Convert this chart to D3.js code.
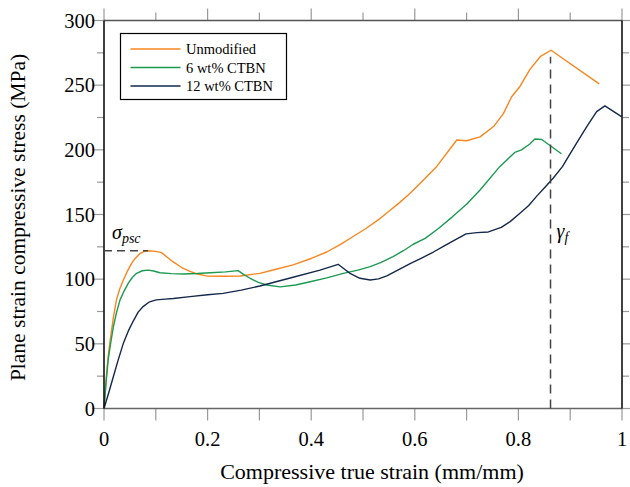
<!DOCTYPE html>
<html>
<head>
<meta charset="utf-8">
<script src="https://cdn.jsdelivr.net/npm/d3@7.9.0/dist/d3.min.js"></script>
<style>
  body { margin: 0; background: #fff; }
  text { font-family: "Liberation Serif", "DejaVu Serif", serif; fill: #000; }
</style>
</head>
<body>
<svg id="chart" width="630" height="487"></svg>
<script>
// strain / stress pairs
const unmodified = [
  [0, 0], [0.004, 22], [0.008, 40], [0.012, 53], [0.018, 70], [0.024, 84],
  [0.03, 92], [0.037, 99], [0.045, 106], [0.053, 112], [0.06, 116], [0.07, 120],
  [0.078, 121.5], [0.085, 122], [0.1, 121.5], [0.111, 120.5], [0.122, 117],
  [0.133, 113.5], [0.15, 109], [0.166, 106], [0.18, 104], [0.198, 102.5],
  [0.23, 102.2], [0.263, 102.5], [0.301, 104.5], [0.33, 107.5], [0.365, 111],
  [0.4, 116], [0.43, 121], [0.455, 126.5], [0.481, 133], [0.505, 139],
  [0.53, 146], [0.55, 152.5], [0.57, 159], [0.59, 166], [0.61, 174],
  [0.642, 187], [0.681, 207.6], [0.70, 207], [0.726, 210], [0.752, 218],
  [0.771, 228], [0.787, 241], [0.803, 249], [0.822, 262], [0.842, 272],
  [0.863, 277], [0.956, 251]
];
const ctbn6 = [
  [0, 0], [0.004, 20], [0.008, 37.5], [0.013, 51], [0.018, 63], [0.024, 74],
  [0.031, 84], [0.039, 91], [0.047, 97], [0.055, 101.5], [0.063, 104.5],
  [0.074, 106.5], [0.085, 107], [0.096, 106.3], [0.108, 105], [0.13, 104.3],
  [0.153, 104], [0.18, 104.4], [0.205, 105], [0.235, 105.6], [0.259, 106.6],
  [0.27, 103.5], [0.282, 100.7], [0.298, 97.5], [0.314, 95.5], [0.34, 94],
  [0.37, 95.5], [0.398, 98], [0.43, 101], [0.462, 104.5], [0.49, 107],
  [0.514, 109.7], [0.535, 113], [0.558, 117.4], [0.578, 122], [0.597, 127],
  [0.62, 131.5], [0.645, 139], [0.672, 148], [0.7, 158], [0.726, 169],
  [0.764, 187], [0.793, 198], [0.806, 200], [0.822, 204.5], [0.832, 208.4],
  [0.845, 208], [0.883, 197]
];
const ctbn12 = [
  [0, 0], [0.009, 12], [0.018, 24.6], [0.027, 37], [0.037, 50], [0.047, 60],
  [0.057, 68], [0.066, 74.5], [0.076, 79], [0.088, 82.5], [0.101, 84],
  [0.118, 84.6], [0.134, 85], [0.166, 86.5], [0.2, 88], [0.23, 89],
  [0.265, 91.5], [0.301, 94.7], [0.365, 101.5], [0.417, 107], [0.452, 111.5],
  [0.465, 107.5], [0.475, 104.5], [0.494, 100.7], [0.514, 99.4], [0.53, 100.2],
  [0.546, 102.5], [0.591, 112], [0.614, 116.5], [0.636, 121], [0.656, 125.5],
  [0.676, 130], [0.699, 135], [0.72, 136], [0.742, 136.5], [0.767, 140],
  [0.784, 144.5], [0.803, 151], [0.82, 157], [0.835, 164], [0.85, 170.5],
  [0.867, 178], [0.885, 187], [0.9, 197], [0.915, 207], [0.932, 218],
  [0.951, 229.5], [0.967, 234], [0.999, 225.7]
];

const seriesNames  = ['Unmodified', '6 wt% CTBN', '12 wt% CTBN'];
const seriesColors = ['#f7861f', '#1b9a52', '#14284b'];
const xTicks = [0, 0.2, 0.4, 0.6, 0.8, 1];
const yTicks = [0, 50, 100, 150, 200, 250, 300];
const sigmaPsc = [0.085, 122];   // yield point
const gammaF   = [0.862, 277];   // failure strain

const W = 630, H = 487;
const margin = { top: 20.5, right: 8, bottom: 78.5, left: 104 };
const svg = d3.select('#chart');

const x = d3.scaleLinear().domain([0, 1]).range([margin.left, W - margin.right]);
const y = d3.scaleLinear().domain([0, 300]).range([H - margin.bottom, margin.top]);

const tickColor = '#999';

// ticks on all four sides, pointing out
const xMinor = d3.range(0, 1.0001, 0.1);
const yMinor = d3.range(0, 300.1, 25);

// bottom
svg.append('g').selectAll('line').data(xMinor).join('line')
  .attr('x1', d => x(d)).attr('x2', d => x(d))
  .attr('y1', y(0)).attr('y2', y(0) + 12)
  .attr('stroke', tickColor).attr('stroke-width', 1.2);
// top
svg.append('g').selectAll('line').data(xMinor).join('line')
  .attr('x1', d => x(d)).attr('x2', d => x(d))
  .attr('y1', y(300)).attr('y2', (d, i) => y(300) - (i % 2 === 0 ? 12 : 8))
  .attr('stroke', tickColor).attr('stroke-width', 1.2);
// left
svg.append('g').selectAll('line').data(yMinor).join('line')
  .attr('y1', d => y(d)).attr('y2', d => y(d))
  .attr('x1', x(0)).attr('x2', (d, i) => x(0) - (i % 2 === 0 ? 12 : 7))
  .attr('stroke', tickColor).attr('stroke-width', 1.2);
// right
svg.append('g').selectAll('line').data(yMinor).join('line')
  .attr('y1', d => y(d)).attr('y2', d => y(d))
  .attr('x1', x(1)).attr('x2', (d, i) => x(1) + (i % 2 === 0 ? 12 : 7))
  .attr('stroke', tickColor).attr('stroke-width', 1.2);

// tick labels
svg.append('g').selectAll('text').data(xTicks).join('text')
  .attr('x', d => x(d)).attr('y', y(0) + 37)
  .attr('text-anchor', 'middle').style('font-size', '20.5px')
  .text(d => d3.format('~g')(d));
svg.append('g').selectAll('text').data(yTicks).join('text')
  .attr('x', x(0) - 9).attr('y', d => y(d) + 7)
  .attr('text-anchor', 'end').style('font-size', '20.5px')
  .text(d => d);

// curves
const line = d3.line().x(d => x(d[0])).y(d => y(d[1]));
[unmodified, ctbn6, ctbn12].forEach((data, i) => {
  svg.append('path').datum(data)
    .attr('d', line)
    .attr('fill', 'none')
    .attr('stroke', seriesColors[i])
    .attr('stroke-width', 1.4)
    .attr('stroke-linejoin', 'round');
});

// frame
svg.append('line').attr('x1', x(0)).attr('x2', x(1)).attr('y1', y(0)).attr('y2', y(0))
  .attr('stroke', '#666').attr('stroke-width', 1.6);
svg.append('line').attr('x1', x(0)).attr('x2', x(1)).attr('y1', y(300)).attr('y2', y(300))
  .attr('stroke', '#555').attr('stroke-width', 1.4);
svg.append('line').attr('x1', x(0)).attr('x2', x(0)).attr('y1', y(0)).attr('y2', y(300))
  .attr('stroke', '#111').attr('stroke-width', 1.6);
svg.append('line').attr('x1', x(1)).attr('x2', x(1)).attr('y1', y(0)).attr('y2', y(300))
  .attr('stroke', '#111').attr('stroke-width', 1.6);

// sigma_psc marker
svg.append('line')
  .attr('x1', x(0)).attr('x2', x(sigmaPsc[0]))
  .attr('y1', y(sigmaPsc[1])).attr('y2', y(sigmaPsc[1]))
  .attr('stroke', '#444').attr('stroke-width', 1.5).attr('stroke-dasharray', '8,5');
const sig = svg.append('text')
  .attr('x', x(0) + 8).attr('y', y(sigmaPsc[1]) - 12)
  .style('font-size', '20px').style('font-style', 'italic');
sig.append('tspan').text('σ');
sig.append('tspan').attr('dy', 4).style('font-size', '14px').text('psc');

// gamma_f marker
svg.append('line')
  .attr('x1', x(gammaF[0])).attr('x2', x(gammaF[0]))
  .attr('y1', y(0)).attr('y2', y(gammaF[1] - 5))
  .attr('stroke', '#444').attr('stroke-width', 1.5).attr('stroke-dasharray', '9,6');
const gam = svg.append('text')
  .attr('x', x(gammaF[0]) + 6).attr('y', 238)
  .style('font-size', '20px').style('font-style', 'italic');
gam.append('tspan').text('γ');
gam.append('tspan').attr('dy', 4).style('font-size', '14px').text('f');

// legend
const lg = svg.append('g').attr('transform', 'translate(120.5,33.5)');
lg.append('rect').attr('width', 166).attr('height', 66)
  .attr('fill', '#fff').attr('stroke', '#000').attr('stroke-width', 1.2);
seriesNames.forEach((name, i) => {
  const yy = 15.5 + i * 18.5;
  lg.append('line').attr('x1', 10).attr('x2', 60).attr('y1', yy).attr('y2', yy)
    .attr('stroke', seriesColors[i]).attr('stroke-width', 1.4);
  lg.append('text').attr('x', 65.5).attr('y', yy + 5)
    .style('font-size', '14.5px').text(name);
});

// axis titles
svg.append('text')
  .attr('x', 372).attr('y', 479)
  .attr('text-anchor', 'middle').style('font-size', '22px')
  .text('Compressive true strain (mm/mm)');
svg.append('text')
  .attr('transform', `translate(25,${(y(0) + y(300)) / 2 + 3}) rotate(-90)`)
  .attr('text-anchor', 'middle').style('font-size', '21.5px')
  .text('Plane strain compressive stress (MPa)');
</script>
</body>
</html>
